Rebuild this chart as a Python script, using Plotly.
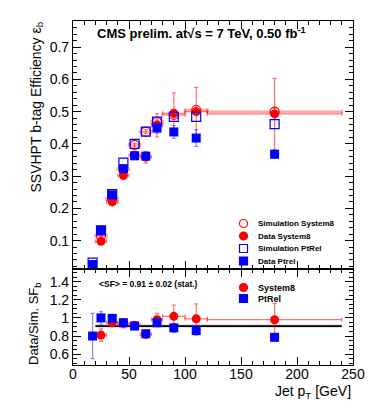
import plotly.graph_objects as go
from plotly.subplots import make_subplots

# jet pT bins (GeV)
pt_s8 = [25, 35, 45, 55, 65, 75, 90, 110, 180]
pt_s8_half = [5, 5, 5, 5, 5, 5, 10, 10, 60]
pt_ptrel = [17.5, 25, 35, 45, 55, 65, 75, 90, 110, 180]

# b-tag efficiencies
sim_s8 = [0.115, 0.229, 0.321, 0.397, 0.438, 0.468, 0.490, 0.505, 0.500]
sim_s8_err = [0.004, 0.004, 0.005, 0.005, 0.006, 0.006, 0.008, 0.008, 0.010]
data_s8 = [0.098, 0.220, 0.302, 0.365, 0.359, 0.458, 0.495, 0.500, 0.493]
data_s8_err = [0.008, 0.008, 0.010, 0.012, 0.018, 0.036, 0.063, 0.075, 0.110]
sim_ptrel = [0.032, 0.132, 0.244, 0.342, 0.400, 0.438, 0.469, 0.484, 0.484, 0.461]
data_ptrel = [0.026, 0.132, 0.242, 0.323, 0.363, 0.362, 0.449, 0.437, 0.418, 0.368]
data_ptrel_err = [0.004, 0.005, 0.006, 0.008, 0.010, 0.010, 0.016, 0.020, 0.026, 0.012]

# data/simulation scale factors
sf_s8 = [0.81, 0.946, 0.94, 0.92, 0.82, 0.98, 1.017, 0.99, 0.98]
sf_s8_err = [0.07, 0.03, 0.05, 0.04, 0.045, 0.07, 0.125, 0.165, 0.18]
sf_ptrel = [0.80, 1.0, 0.995, 0.947, 0.91, 0.825, 0.946, 0.89, 0.86, 0.786]
sf_ptrel_err = [0.25, 0.07, 0.03, 0.03, 0.03, 0.03, 0.04, 0.05, 0.05, 0.02]

sf_mean = 0.91
sf_mean_err = 0.02
sf_range = [20, 240]

RED = "#ff0000"
BLUE = "#0000ff"
RED_ERR = "rgba(255,0,0,0.55)"
BLUE_ERR = "rgba(0,0,255,0.45)"
FONT = "Liberation Sans, Arial, sans-serif"

fig = make_subplots(rows=2, cols=1, shared_xaxes=True, vertical_spacing=0,
                    row_heights=[0.721, 0.279])


def xerr(half):
    return dict(type="data", array=half, color=RED_ERR, thickness=1.2, width=2)


# top panel
fig.add_trace(go.Scatter(
    x=pt_s8, y=sim_s8, mode="markers",
    marker=dict(symbol="circle-open", size=9, color=RED, line=dict(width=1.2)),
    error_x=dict(type="data", array=pt_s8_half, color="rgba(255,0,0,0.35)", thickness=2.5, width=2),
    error_y=dict(type="data", array=sim_s8_err, color=RED_ERR, thickness=1, width=2),
    showlegend=False), row=1, col=1)
fig.add_trace(go.Scatter(
    x=pt_s8, y=data_s8, mode="markers",
    marker=dict(symbol="circle", size=9, color=RED),
    error_x=xerr(pt_s8_half),
    error_y=dict(type="data", array=data_s8_err, color=RED_ERR, thickness=1.2, width=2),
    showlegend=False), row=1, col=1)
fig.add_trace(go.Scatter(
    x=pt_ptrel, y=sim_ptrel, mode="markers",
    marker=dict(symbol="square-open", size=9, color=BLUE, line=dict(width=1.2)),
    showlegend=False), row=1, col=1)
fig.add_trace(go.Scatter(
    x=pt_ptrel, y=data_ptrel, mode="markers",
    marker=dict(symbol="square", size=9, color=BLUE),
    error_y=dict(type="data", array=data_ptrel_err, color=BLUE_ERR, thickness=1.2, width=2),
    showlegend=False), row=1, col=1)

# bottom panel: mean SF band + line
fig.add_trace(go.Scatter(
    x=sf_range + sf_range[::-1],
    y=[sf_mean + sf_mean_err] * 2 + [sf_mean - sf_mean_err] * 2,
    fill="toself", fillcolor="rgba(190,190,190,0.6)", line=dict(width=0),
    mode="lines", hoverinfo="skip", showlegend=False), row=2, col=1)
fig.add_trace(go.Scatter(
    x=sf_range, y=[sf_mean] * 2, mode="lines",
    line=dict(color="black", width=1.8), showlegend=False), row=2, col=1)
fig.add_trace(go.Scatter(
    x=pt_s8, y=sf_s8, mode="markers",
    marker=dict(symbol="circle", size=9, color=RED),
    error_x=xerr(pt_s8_half),
    error_y=dict(type="data", array=sf_s8_err, color=RED_ERR, thickness=1.2, width=2),
    showlegend=False), row=2, col=1)
fig.add_trace(go.Scatter(
    x=pt_ptrel, y=sf_ptrel, mode="markers",
    marker=dict(symbol="square", size=9, color=BLUE),
    error_y=dict(type="data", array=sf_ptrel_err, color=BLUE_ERR, thickness=1.2, width=2),
    showlegend=False), row=2, col=1)

axis_style = dict(
    showline=True, linecolor="black", linewidth=1.2, mirror="ticks",
    ticks="inside", ticklen=8, tickcolor="black", tickwidth=1,
    showgrid=False, zeroline=False, automargin=False,
    tickfont=dict(family=FONT, size=14, color="black"),
)
fig.update_xaxes(**axis_style, range=[0, 250], dtick=50, ticklabelstandoff=-4,
                 minor=dict(dtick=10, ticks="inside", ticklen=4, tickcolor="black"))
fig.update_xaxes(showticklabels=False, row=1, col=1)
fig.update_yaxes(**axis_style)
fig.update_yaxes(range=[0.012, 0.781], tickvals=[0.1, 0.2, 0.3, 0.4, 0.5, 0.6, 0.7],
                 minor=dict(dtick=0.02, ticks="inside", ticklen=4, tickcolor="black"),
                 row=1, col=1)
fig.update_yaxes(range=[0.48, 1.54], tickvals=[0.6, 0.8, 1.0, 1.2, 1.4],
                 ticktext=["0.6", "0.8", "1", "1.2", "1.4"],
                 minor=dict(dtick=0.05, ticks="inside", ticklen=4, tickcolor="black"),
                 row=2, col=1)

# plot frame in window pixels (page body adds an 8px offset)
L, R, T, B = 73, 353, 21, 365
OFF = 8


def px(x):
    return (x - L) / (R - L)


def py(y):
    return (B - y) / (B - T)


annotations = [
    dict(text="<b>CMS prelim. at√s = 7 TeV, 0.50 fb<sup>-1</sup></b>", x=px(95), y=py(33),
         xanchor="left", yanchor="middle", font=dict(size=13)),
    dict(text="SSVHPT b-tag Efficiency ε<sub>b</sub>", x=px(36), y=py(20), textangle=-90,
         xanchor="center", yanchor="top", font=dict(size=14)),
    dict(text="Data/Sim. SF<sub>b</sub>", x=px(34), y=py(281), textangle=-90,
         xanchor="center", yanchor="top", font=dict(size=13)),
    dict(text="Jet p<sub>T</sub> [GeV]", x=px(353), y=py(392), xanchor="right",
         yanchor="middle", font=dict(size=14)),
    dict(text="<b>&lt;SF&gt; = 0.91 ± 0.02 (stat.)</b>", x=px(97), y=py(284),
         xanchor="left", yanchor="middle", font=dict(size=8.5)),
]

shapes = []
top_legend = [("Simulation System8", "circle", False, RED),
              ("Data System8", "circle", True, RED),
              ("Simulation PtRel", "rect", False, BLUE),
              ("Data Ptrel", "rect", True, BLUE)]
top_rows = [223.5, 236, 248.5, 261]
bot_legend = [("System8", "circle", True, RED), ("PtRel", "rect", True, BLUE)]
bot_rows = [287.5, 298.5]

for (label, kind, filled, color), yy in list(zip(top_legend, top_rows)) + list(zip(bot_legend, bot_rows)):
    shapes.append(dict(type=kind, xref="paper", yref="paper",
                       x0=px(239.5), x1=px(247.5), y0=py(yy + 4), y1=py(yy - 4),
                       line=dict(color=color, width=1.2),
                       fillcolor=color if filled else "rgba(0,0,0,0)"))
    annotations.append(dict(text="<b>" + label + "</b>", x=px(256), y=py(yy),
                            xanchor="left", yanchor="middle",
                            font=dict(size=8 if yy < 270 else 9)))

for a in annotations:
    a.update(xref="paper", yref="paper", showarrow=False)
    a.setdefault("font", {})
    a["font"].update(family=FONT, color="black")

fig.update_layout(
    width=387, height=415,
    margin=dict(l=L - OFF, r=387 - R + OFF, t=T - OFF, b=415 - B + OFF, autoexpand=False),
    paper_bgcolor="white", plot_bgcolor="white",
    font=dict(family=FONT, color="black"),
    annotations=annotations, shapes=shapes,
)

fig.write_html("out.html")
